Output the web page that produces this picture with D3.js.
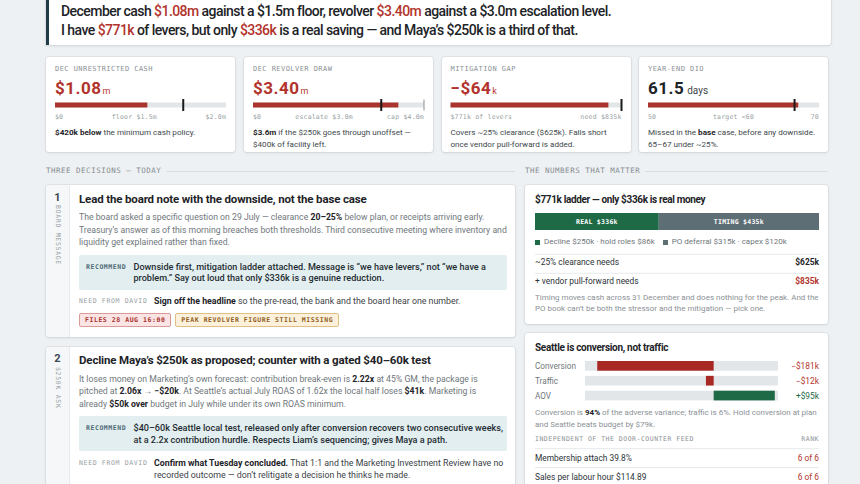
<!DOCTYPE html>
<html><head><meta charset="utf-8">
<script src="https://cdn.jsdelivr.net/npm/d3@7"></script>
<style>
html,body{margin:0;padding:0;}
body{width:860px;height:484px;overflow:hidden;background:#eef1f3;font-family:Roboto,'Liberation Sans',sans-serif;position:relative;color:#1d2327;}
.card{position:absolute;background:#fff;border-radius:3px;box-shadow:0 1px 3px rgba(30,45,55,.10),0 0 0 1px rgba(30,45,55,.05);}
.mono{font-family:'DejaVu Sans Mono','Liberation Mono',monospace;}
.ln{position:absolute;white-space:nowrap;}
.ln b{font-weight:700;color:#1d2327;}
.red{color:#b2332c;}
.grn{color:#1f6a46;}
</style></head><body>
<script>
// ---------------- DATA ----------------
const headlineLines = [
  "December cash {{$1.08m}} against a $1.5m floor, revolver {{$3.40m}} against a $3.0m escalation level.",
  "I have {{$771k}} of levers, but only {{$336k}} is a real saving — and Maya’s $250k is a third of that."
];
const kpiLabels = ["DEC UNRESTRICTED CASH", "DEC REVOLVER DRAW", "MITIGATION GAP", "YEAR-END DIO"];
const kpiDisplay = ["$1.08", "$3.40", "−$64", "61.5"];
const kpiUnits = ["m", "m", "k", "days"];
const kpiBarValues = [1.08, 3.40, 771, 61.5];
const kpiDomainMax = [2.0, 4.0, 835, 70];
const kpiMarkers = [1.5, 3.0, 835, 60];
const kpiCapMarkers = [null, 4.0, null, null];
const kpiTickLabels = [
  ["$0", "floor $1.5m", "$2.0m"],
  ["$0", "escalate $3.0m", "cap $4.0m"],
  ["$771k of levers", "need $835k"],
  ["50", "target <60", "70"]
];
const kpiNotes = [
  ["**$420k below** the minimum cash policy."],
  ["**$3.6m** if the $250k goes through unoffset —", "$400k of facility left."],
  ["Covers ~25% clearance ($625k). Falls short", "once vendor pull-forward is added."],
  ["Missed in the **base** case, before any downside.", "65–67 under ~25%."]
];
const sectionTitles = ["THREE DECISIONS — TODAY", "THE NUMBERS THAT MATTER"];
const decisionNums = ["1", "2"];
const decisionTags = ["BOARD MESSAGE", "$250K ASK"];
const decisionTitles = [
  "Lead the board note with the downside, not the base case",
  "Decline Maya’s $250k as proposed; counter with a gated $40–60k test"
];
const decisionBody = [
  ["The board asked a specific question on 29 July — clearance **20–25%** below plan, or receipts arriving early.",
   "Treasury’s answer as of this morning breaches both thresholds. Third consecutive meeting where inventory and",
   "liquidity get explained rather than fixed."],
  ["It loses money on Marketing’s own forecast: contribution break-even is **2.22x** at 45% GM, the package is",
   "pitched at **2.06x** → **−$20k**. At Seattle’s actual July ROAS of 1.62x the local half loses **$41k**. Marketing is",
   "already **$50k over** budget in July while under its own ROAS minimum."]
];
const decisionRecommend = [
  ["Downside first, mitigation ladder attached. Message is “we have levers,” not “we have a",
   "problem.” Say out loud that only $336k is a genuine reduction."],
  ["$40–60k Seattle local test, released only after conversion recovers two consecutive weeks,",
   "at a 2.2x contribution hurdle. Respects Liam’s sequencing; gives Maya a path."]
];
const decisionNeed = [
  ["**Sign off the headline** so the pre-read, the bank and the board hear one number."],
  ["**Confirm what Tuesday concluded.** That 1:1 and the Marketing Investment Review have no",
   "recorded outcome — don’t relitigate a decision he thinks he made."]
];
const decisionFlags = [["FILES 28 AUG 16:00", "PEAK REVOLVER FIGURE STILL MISSING"], []];
const ladderTitle = "$771k ladder — only $336k is real money";
const ladderNames = ["REAL", "TIMING"];
const ladderValues = [336, 435];
const ladderLegend = ["Decline $250k · hold roles $86k", "PO deferral $315k · capex $120k"];
const needLabels = ["~25% clearance needs", "+ vendor pull-forward needs"];
const needValues = ["$625k", "$835k"];
const ladderNote = ["Timing moves cash across 31 December and does nothing for the peak. And the",
  "PO book can’t be both the stressor and the mitigation — pick one."];
const driverTitle = "Seattle is conversion, not traffic";
const driverLabels = ["Conversion", "Traffic", "AOV"];
const driverValues = [-181, -12, 95];
const driverNote = ["Conversion is **94%** of the adverse variance; traffic is 6%. Hold conversion at plan",
  "and Seattle beats budget by $79k."];
const rankHeader = ["INDEPENDENT OF THE DOOR-COUNTER FEED", "RANK"];
const rankLabels = ["Membership attach 39.8%", "Sales per labour hour $114.89"];
const rankValues = ["6 of 6", "6 of 6"];

// ---------------- STYLE ----------------
const C = {red: "#a9352e", redText: "#b2332c", green: "#1f6a46", slate: "#5e6e75", track: "#e3e6e8",
  ink: "#1d2327", gray: "#70777c", mono: "#8b9196", line: "#e6e9eb"};

const body = d3.select("body");
const bg = body.append("div");
const svg = body.append("svg").attr("width", 860).attr("height", 484)
  .style("position", "absolute").style("left", 0).style("top", 0);
const fg = body.append("div");

function card(x, y, w, h) {
  return bg.append("div").attr("class", "card")
    .style("left", x + "px").style("top", y + "px").style("width", w + "px").style("height", h + "px");
}
function rich(sel, s) {
  s.split(/(\*\*.+?\*\*|\{\{.+?\}\}|\[\[.+?\]\])/).forEach(p => {
    if (!p) return;
    if (p.startsWith("**")) sel.append("b").text(p.slice(2, -2));
    else if (p.startsWith("{{")) sel.append("span").attr("class", "red").text(p.slice(2, -2));
    else if (p.startsWith("[[")) sel.append("span").attr("class", "grn").text(p.slice(2, -2));
    else sel.append("span").text(p);
  });
}
function txt(x, cy, s, o = {}) {
  const h = o.lh || 12;
  const d = fg.append("div").attr("class", "ln" + (o.mono ? " mono" : ""))
    .style("top", (cy - h / 2) + "px").style("height", h + "px").style("line-height", h + "px")
    .style("font-size", (o.fs || 9) + "px").style("color", o.color || C.ink);
  if (o.align === "right") d.style("right", (860 - x) + "px");
  else if (o.align === "center") d.style("left", x + "px").style("transform", "translateX(-50%)");
  else d.style("left", x + "px");
  if (o.w) d.style("font-weight", o.w);
  if (o.ls != null) d.style("letter-spacing", o.ls + "px");
  rich(d, s);
  return d;
}
// fit a paragraph's first line to a given column width, same size for the rest
function para(x, cy, lines, step, width, o) {
  const ds = lines.map((l, i) => txt(x, cy + i * step, l, o));
  const w = ds[0].node().getBoundingClientRect().width;
  const fs = (o.fs || 9) * width / w;
  ds.forEach(d => d.style("font-size", fs + "px"));
}

// ---------------- HEADLINE ----------------
card(46, -20, 782, 65).style("border-left", "3px solid #1f3d47").style("border-radius", "0 3px 3px 0");
headlineLines.forEach((l, i) => txt(61, 11 + i * 19, l, {fs: 14, w: 500, lh: 18, ls: -0.55}));

// ---------------- KPI CARDS ----------------
const kpiLeft = [46, 244, 441.5, 639];
kpiLabels.forEach((lab, i) => {
  const L = kpiLeft[i];
  card(L, 57, 189, 95);
  txt(L + 9, 69, lab, {mono: 1, fs: 7, ls: 0.45, color: C.mono});
  const v = txt(L + 9, 88, "", {fs: 17, w: 700, lh: 22, ls: 0.5, color: i < 3 ? C.redText : C.ink});
  v.append("span").text(kpiDisplay[i]);
  v.append("span").text(kpiUnits[i]).style("font-size", i === 3 ? "10px" : "9px").style("font-weight", 400)
    .style("letter-spacing", "0").style("margin-left", i === 3 ? "3px" : "1px")
    .style("color", i === 3 ? "#3e4549" : C.redText);
  const x = d3.scaleLinear().domain([0, kpiDomainMax[i]]).range([L + 9, L + 180]);
  const g = svg.append("g");
  g.append("rect").attr("x", x(0)).attr("y", 102.5).attr("width", x(kpiDomainMax[i]) - x(0)).attr("height", 5).attr("fill", C.track);
  g.append("rect").attr("x", x(0)).attr("y", 102.5).attr("width", x(kpiBarValues[i]) - x(0)).attr("height", 5).attr("fill", C.red);
  if (kpiCapMarkers[i] != null)
    g.append("rect").attr("x", x(kpiCapMarkers[i]) - 0.5).attr("y", 99.5).attr("width", 1).attr("height", 11).attr("fill", "#8b9196");
  g.append("rect").attr("x", x(kpiMarkers[i]) - 1).attr("y", 99).attr("width", 2).attr("height", 12).attr("fill", "#1b1b1b");
  const tk = fg.append("div").attr("class", "ln mono")
    .style("left", x(0) + "px").style("width", (x(kpiDomainMax[i]) - x(0)) + "px").style("top", "113px")
    .style("height", "8px").style("line-height", "8px").style("font-size", "6.5px").style("letter-spacing", "0.2px")
    .style("color", "#989fa4").style("display", "flex").style("justify-content", "space-between");
  kpiTickLabels[i].forEach(t => tk.append("span").text(t));
  kpiNotes[i].forEach((n, j) => txt(L + 9, 132 + j * 11.8, n, {fs: 8.1, color: "#41484c"}));
});

// ---------------- SECTION HEADERS ----------------
[[46, 515], [525, 828]].forEach((r, i) => {
  const t = txt(r[0], 171, sectionTitles[i], {mono: 1, fs: 7.5, ls: 0.5, color: "#868d92"});
  const w = t.node().getBoundingClientRect().width;
  svg.append("line").attr("x1", r[0] + w + 5).attr("x2", r[1]).attr("y1", 171.5).attr("y2", 171.5)
    .attr("stroke", "#d8dde0").attr("stroke-width", 1);
});

// ---------------- DECISIONS ----------------
const decTop = [185, 346.5];
const decH = [151.5, 160];
decisionTitles.forEach((title, i) => {
  const T = decTop[i];
  card(46, T, 469, decH[i]);
  bg.append("div").style("position", "absolute").style("left", "46px").style("top", T + "px")
    .style("width", "23px").style("height", decH[i] + "px").style("background", "#f5f7f8")
    .style("border-right", "1px solid #e7eaec").style("border-radius", "3px 0 0 3px");
  txt(57.5, T + 12.5, decisionNums[i], {fs: 11, w: 700, align: "center", color: "#3b4950"});
  fg.append("div").attr("class", "mono").style("position", "absolute")
    .style("left", "53px").style("top", (T + 20) + "px").style("writing-mode", "vertical-rl")
    .style("font-size", "6.5px").style("letter-spacing", "0.7px").style("line-height", "9px")
    .style("color", "#9aa1a6").style("white-space", "nowrap").text(decisionTags[i]);
  txt(79, T + 13.5, title, {fs: 11.5, w: 700, lh: 16, ls: -0.15});
  decisionBody[i].forEach((l, j) => txt(79, T + 32 + j * 12.6, l, {fs: 8.7, color: C.gray}));
  const bt = T + 69.5;
  bg.append("div").style("position", "absolute").style("left", "79px").style("top", bt + "px")
    .style("width", "428px").style("height", "35px").style("background", "#e3eef0").style("border-radius", "2px");
  txt(86, bt + 12, "RECOMMEND", {mono: 1, fs: 6.5, w: 700, ls: 0.55, color: "#4f6b75"});
  decisionRecommend[i].forEach((l, j) => txt(133.5, bt + 12 + j * 11.7, l, {fs: 9.1, w: 500, color: "#1f2d33"}));
  const nt = T + 116.3;
  txt(79, nt, "NEED FROM DAVID", {mono: 1, fs: 6.5, ls: 0.65, color: "#979ea3"});
  decisionNeed[i].forEach((l, j) => txt(154, nt + j * 11.7, l, {fs: 8.8, color: "#3b4246"}));
  let fx = 79;
  decisionFlags[i].forEach((f, j) => {
    const tag = fg.append("div").attr("class", "mono").style("position", "absolute")
      .style("left", fx + "px").style("top", (T + 127.7) + "px").style("height", "12px")
      .style("line-height", "12px").style("padding", "0 5px").style("font-size", "6.5px").style("font-weight", 700)
      .style("letter-spacing", "0.55px").style("white-space", "nowrap").style("border-radius", "2px")
      .style("background", j === 0 ? "#fbe4e4" : "#fdf1dc")
      .style("border", "1px solid " + (j === 0 ? "#d99a98" : "#dfbf85"))
      .style("color", j === 0 ? "#a8322e" : "#8e5f1c").text(f);
    fx += tag.node().getBoundingClientRect().width + 4;
  });
});

// ---------------- LADDER CARD ----------------
card(525, 185, 303, 138.5);
txt(535, 200, ladderTitle, {fs: 10, w: 700, lh: 14, ls: -0.35});
const lx = d3.scaleLinear().domain([0, d3.sum(ladderValues)]).range([535, 819]);
const cum = d3.cumsum(ladderValues);
const ladColors = [C.green, C.slate];
ladderValues.forEach((v, i) => {
  const x0 = lx(cum[i] - v), x1 = lx(cum[i]);
  svg.append("rect").attr("x", x0).attr("y", 213).attr("width", x1 - x0).attr("height", 17).attr("fill", ladColors[i]);
  txt((x0 + x1) / 2, 221.5, ladderNames[i] + " $" + v + "k", {mono: 1, fs: 6.5, w: 700, ls: 0.27, align: "center", color: "#fff"});
});
const lg = fg.append("div").attr("class", "ln").style("left", "535px").style("top", "236px")
  .style("height", "12px").style("line-height", "12px").style("font-size", "8px").style("color", C.gray)
  .style("display", "flex").style("align-items", "center");
ladderLegend.forEach((t, i) => {
  lg.append("span").style("display", "inline-block").style("width", "5px").style("height", "5px")
    .style("background", ladColors[i]).style("margin", (i ? "0 4px 0 8px" : "0 4px 0 0"));
  lg.append("span").text(t);
});
[254.3, 273.3].forEach(y => svg.append("line").attr("x1", 535).attr("x2", 819).attr("y1", y).attr("y2", y).attr("stroke", C.line));
needLabels.forEach((l, i) => {
  txt(535, 262 + i * 19, l, {fs: 8.4, color: "#2d3337"});
  txt(819, 262 + i * 19, needValues[i], {fs: 8.4, w: 700, align: "right", color: i ? C.redText : C.ink});
});
para(535, 298, ladderNote, 11.2, lx.range()[1] - lx.range()[0], {fs: 8.3, color: "#8b9196"});

// ---------------- DRIVER CARD ----------------
card(525, 333.3, 303, 170);
txt(535, 347.5, driverTitle, {fs: 10, w: 700, lh: 14, ls: -0.3});
const dx = d3.scaleLinear().domain([-200, 100]).range([585, 778]);
const dy = d3.scalePoint().domain(driverLabels).range([366, 395.7]);
driverLabels.forEach((lab, i) => {
  const v = driverValues[i], cy = dy(lab);
  svg.append("rect").attr("x", dx.range()[0]).attr("y", cy - 5).attr("width", dx.range()[1] - dx.range()[0])
    .attr("height", 9.7).attr("fill", C.track);
  svg.append("rect").attr("x", dx(Math.min(0, v))).attr("y", cy - 5).attr("width", Math.abs(dx(v) - dx(0)))
    .attr("height", 9.7).attr("fill", v < 0 ? "#a82824" : C.green);
  txt(535, cy, lab, {fs: 8.2, color: C.gray});
  txt(819, cy, (v < 0 ? "−$" : "+$") + Math.abs(v) + "k", {fs: 8.4, align: "right", color: v < 0 ? C.redText : C.green});
});
para(535, 413.3, driverNote, 11.2, 282, {fs: 8, color: "#8b9196"});
txt(535, 439.3, rankHeader[0], {mono: 1, fs: 6.5, ls: 0.5, color: C.mono});
txt(819, 439.3, rankHeader[1], {mono: 1, fs: 6.5, ls: 0.5, align: "right", color: C.mono});
[448.7, 467.7].forEach(y => svg.append("line").attr("x1", 535).attr("x2", 819).attr("y1", y).attr("y2", y).attr("stroke", C.line));
rankLabels.forEach((l, i) => {
  txt(535, 458.3 + i * 18.5, l, {fs: 8.4, color: "#2d3337"});
  txt(819, 458.3 + i * 18.5, rankValues[i], {fs: 8.4, align: "right", color: C.redText});
});
</script>
</body></html>
